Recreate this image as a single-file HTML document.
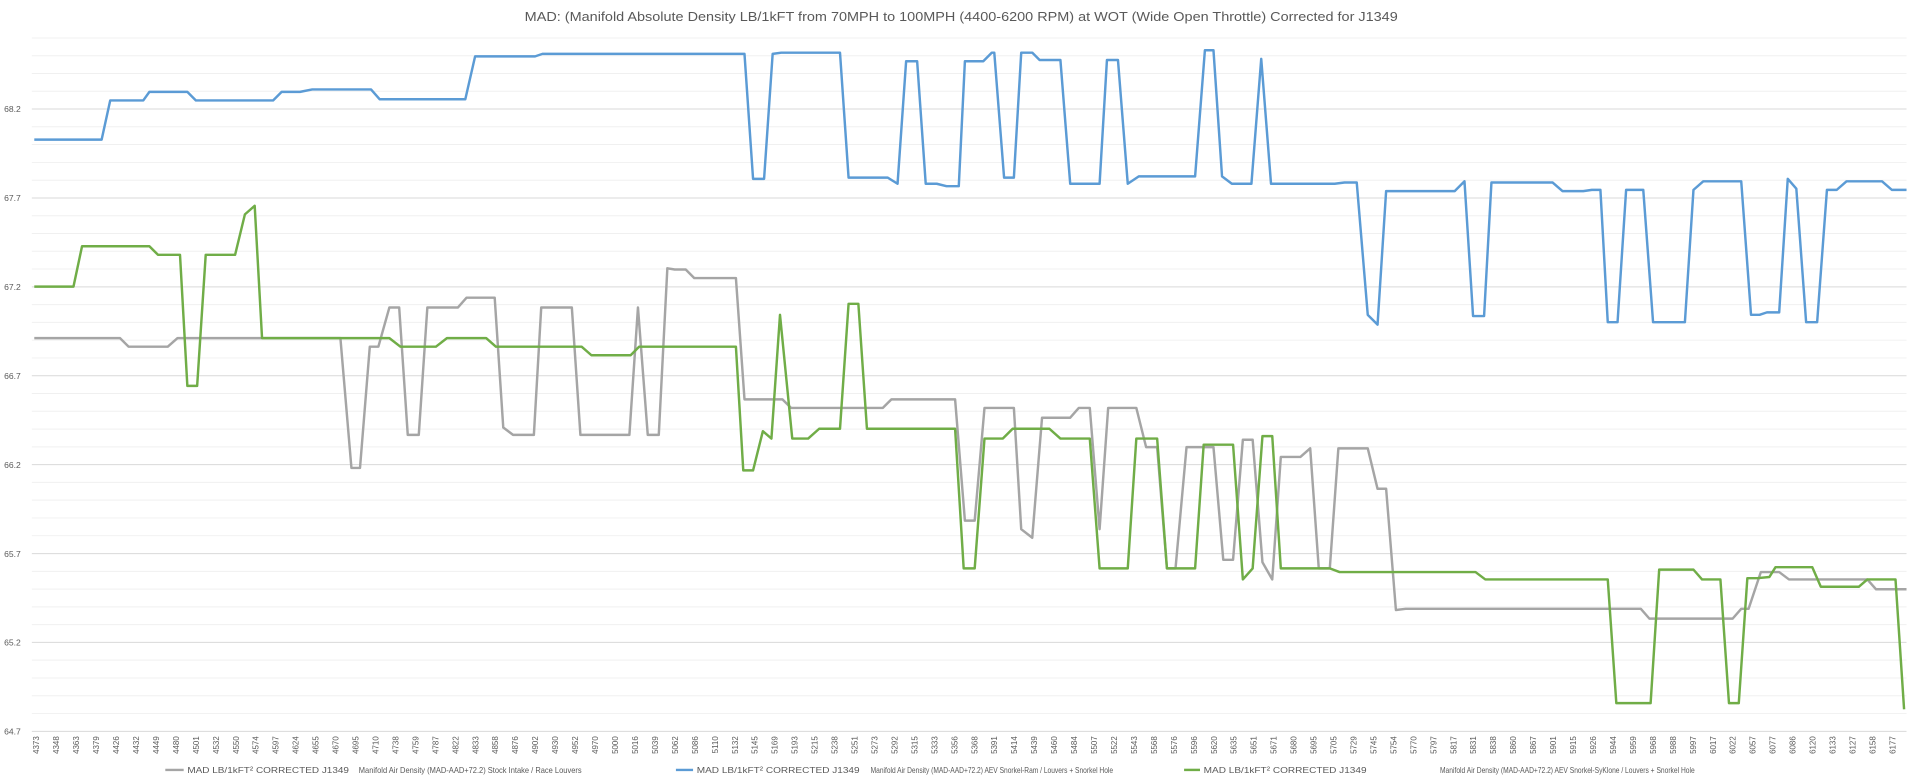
<!DOCTYPE html>
<html><head><meta charset="utf-8"><style>
html,body{margin:0;padding:0;background:#fff}
svg{display:block}
text{font-family:"Liberation Sans",sans-serif;fill:#595959}
</style></head><body>
<svg width="1920" height="784" viewBox="0 0 1568 640" preserveAspectRatio="none">
<rect width="1568" height="640" fill="#fff"/>
<text x="785" y="17" text-anchor="middle" font-size="10.5" textLength="713" lengthAdjust="spacingAndGlyphs" fill="#404040">MAD: (Manifold Absolute Density LB/1kFT from 70MPH to 100MPH (4400-6200 RPM) at WOT (Wide Open Throttle) Corrected for J1349</text>
<path stroke="#f0f0f0" stroke-width="0.8" fill="none" d="M26 582.5H1557M26 568H1557M26 553.5H1557M26 538.9H1557M26 509.9H1557M26 495.4H1557M26 480.9H1557M26 466.4H1557M26 437.3H1557M26 422.8H1557M26 408.3H1557M26 393.8H1557M26 364.8H1557M26 350.3H1557M26 335.7H1557M26 321.2H1557M26 292.2H1557M26 277.7H1557M26 263.2H1557M26 248.7H1557M26 219.6H1557M26 205.1H1557M26 190.6H1557M26 176.1H1557M26 147.1H1557M26 132.6H1557M26 118H1557M26 103.5H1557M26 74.5H1557M26 60H1557M26 45.5H1557M26 31H1557"/>
<path stroke="#d9d9d9" stroke-width="0.8" fill="none" d="M26 597H1557M26 524.4H1557M26 451.9H1557M26 379.3H1557M26 306.7H1557M26 234.2H1557M26 161.6H1557M26 89H1557"/>
<g font-size="7" text-anchor="end">
<text x="17" y="599.5">64.7</text><text x="17" y="527">65.2</text><text x="17" y="454.5">65.7</text><text x="17" y="382">66.2</text><text x="17" y="309.3">66.7</text><text x="17" y="236.8">67.2</text><text x="17" y="164.2">67.7</text><text x="17" y="91.6">68.2</text>
</g>
<g font-size="6.5" text-anchor="end">
<text transform="translate(32,601) rotate(-90)">4373</text><text transform="translate(48.3,601) rotate(-90)">4348</text><text transform="translate(64.6,601) rotate(-90)">4363</text><text transform="translate(80.9,601) rotate(-90)">4379</text><text transform="translate(97.2,601) rotate(-90)">4426</text><text transform="translate(113.5,601) rotate(-90)">4432</text><text transform="translate(129.8,601) rotate(-90)">4449</text><text transform="translate(146.1,601) rotate(-90)">4480</text><text transform="translate(162.4,601) rotate(-90)">4501</text><text transform="translate(178.7,601) rotate(-90)">4532</text>
<text transform="translate(195,601) rotate(-90)">4550</text><text transform="translate(211.3,601) rotate(-90)">4574</text><text transform="translate(227.6,601) rotate(-90)">4597</text><text transform="translate(243.9,601) rotate(-90)">4624</text><text transform="translate(260.2,601) rotate(-90)">4655</text><text transform="translate(276.5,601) rotate(-90)">4670</text><text transform="translate(292.8,601) rotate(-90)">4695</text><text transform="translate(309.1,601) rotate(-90)">4710</text><text transform="translate(325.4,601) rotate(-90)">4738</text><text transform="translate(341.7,601) rotate(-90)">4759</text>
<text transform="translate(358,601) rotate(-90)">4787</text><text transform="translate(374.3,601) rotate(-90)">4822</text><text transform="translate(390.6,601) rotate(-90)">4833</text><text transform="translate(406.9,601) rotate(-90)">4858</text><text transform="translate(423.2,601) rotate(-90)">4876</text><text transform="translate(439.5,601) rotate(-90)">4902</text><text transform="translate(455.8,601) rotate(-90)">4930</text><text transform="translate(472.1,601) rotate(-90)">4952</text><text transform="translate(488.4,601) rotate(-90)">4970</text><text transform="translate(504.7,601) rotate(-90)">5000</text>
<text transform="translate(521,601) rotate(-90)">5016</text><text transform="translate(537.3,601) rotate(-90)">5039</text><text transform="translate(553.6,601) rotate(-90)">5062</text><text transform="translate(569.9,601) rotate(-90)">5086</text><text transform="translate(586.2,601) rotate(-90)">5110</text><text transform="translate(602.5,601) rotate(-90)">5132</text><text transform="translate(618.8,601) rotate(-90)">5145</text><text transform="translate(635.1,601) rotate(-90)">5169</text><text transform="translate(651.4,601) rotate(-90)">5193</text><text transform="translate(667.7,601) rotate(-90)">5215</text>
<text transform="translate(684,601) rotate(-90)">5238</text><text transform="translate(700.3,601) rotate(-90)">5251</text><text transform="translate(716.6,601) rotate(-90)">5273</text><text transform="translate(732.9,601) rotate(-90)">5292</text><text transform="translate(749.2,601) rotate(-90)">5315</text><text transform="translate(765.5,601) rotate(-90)">5333</text><text transform="translate(781.8,601) rotate(-90)">5356</text><text transform="translate(798.1,601) rotate(-90)">5368</text><text transform="translate(814.4,601) rotate(-90)">5391</text><text transform="translate(830.7,601) rotate(-90)">5414</text>
<text transform="translate(847,601) rotate(-90)">5439</text><text transform="translate(863.3,601) rotate(-90)">5460</text><text transform="translate(879.6,601) rotate(-90)">5484</text><text transform="translate(895.9,601) rotate(-90)">5507</text><text transform="translate(912.2,601) rotate(-90)">5522</text><text transform="translate(928.5,601) rotate(-90)">5543</text><text transform="translate(944.8,601) rotate(-90)">5568</text><text transform="translate(961.1,601) rotate(-90)">5576</text><text transform="translate(977.4,601) rotate(-90)">5596</text><text transform="translate(993.7,601) rotate(-90)">5620</text>
<text transform="translate(1010,601) rotate(-90)">5635</text><text transform="translate(1026.3,601) rotate(-90)">5651</text><text transform="translate(1042.6,601) rotate(-90)">5671</text><text transform="translate(1058.9,601) rotate(-90)">5680</text><text transform="translate(1075.2,601) rotate(-90)">5695</text><text transform="translate(1091.5,601) rotate(-90)">5705</text><text transform="translate(1107.8,601) rotate(-90)">5729</text><text transform="translate(1124.1,601) rotate(-90)">5745</text><text transform="translate(1140.4,601) rotate(-90)">5754</text><text transform="translate(1156.7,601) rotate(-90)">5770</text>
<text transform="translate(1173,601) rotate(-90)">5797</text><text transform="translate(1189.3,601) rotate(-90)">5817</text><text transform="translate(1205.6,601) rotate(-90)">5831</text><text transform="translate(1221.9,601) rotate(-90)">5838</text><text transform="translate(1238.2,601) rotate(-90)">5860</text><text transform="translate(1254.5,601) rotate(-90)">5867</text><text transform="translate(1270.8,601) rotate(-90)">5901</text><text transform="translate(1287.1,601) rotate(-90)">5915</text><text transform="translate(1303.4,601) rotate(-90)">5926</text><text transform="translate(1319.7,601) rotate(-90)">5944</text>
<text transform="translate(1336,601) rotate(-90)">5959</text><text transform="translate(1352.3,601) rotate(-90)">5968</text><text transform="translate(1368.6,601) rotate(-90)">5988</text><text transform="translate(1384.9,601) rotate(-90)">5997</text><text transform="translate(1401.2,601) rotate(-90)">6017</text><text transform="translate(1417.5,601) rotate(-90)">6022</text><text transform="translate(1433.8,601) rotate(-90)">6057</text><text transform="translate(1450.1,601) rotate(-90)">6077</text><text transform="translate(1466.4,601) rotate(-90)">6086</text><text transform="translate(1482.7,601) rotate(-90)">6120</text>
<text transform="translate(1499,601) rotate(-90)">6133</text><text transform="translate(1515.3,601) rotate(-90)">6127</text><text transform="translate(1531.6,601) rotate(-90)">6158</text><text transform="translate(1547.9,601) rotate(-90)">6177</text>
</g>
<g fill="none" stroke-width="2" stroke-linejoin="round">
<polyline stroke="#a5a5a5" points="28,276 98,276 105,283 137,283 145,276 278,276 287,382 294,382 302,283 309,283 318,251 326,251 333,355 342,355 349,251 374,251 381,243 404,243 411,349 419,355 436,355 442,251 467,251 474,355 514,355 521,251 529,355 538,355 545,219 551,220 560,220 567,227 601,227 608,326 639,326 646,333 721,333 728,326 780,326 788,425 796,425 804,333 828,333 834,432 843,439 851,341 874,341 881,333 890,333 898,432 905,333 928,333 936,365 945,365 953,464 960,464 969,365 991,365 999,457 1007,457 1015,359 1023,359 1031,459 1039,473 1046,373 1062,373 1070,366 1077,464 1086,464 1093,366 1117,366 1125,399 1132,399 1140,498 1148,497 1340,497 1347,505 1415,505 1422,497 1428,497 1438,467 1453,467 1461,473 1525,473 1532,481 1557,481"/>
<polyline stroke="#5b9bd5" points="28,114 83,114 90,82 117,82 122,75 153,75 160,82 223,82 230,75 245,75 255,73 303,73 310,81 380,81 388,46 437,46 443,44 608,44 615,146 624,146 631,44 638,43 686,43 693,145 725,145 733,150 740,50 749,50 756,150 765,150 773,152 783,152 788,50 803,50 810,43 812,43 820,145 828,145 834,43 843,43 849,49 866,49 874,150 898,150 904,49 913,49 921,150 930,144 976,144 984,41 991,41 998,144 1006,150 1022,150 1030,48 1038,150 1090,150 1098,149 1108,149 1117,257 1125,265 1132,156 1188,156 1196,148 1203,258 1212,258 1218,149 1268,149 1276,156 1293,156 1300,155 1307,155 1313,263 1321,263 1328,155 1342,155 1350,263 1376,263 1383,155 1391,148 1422,148 1430,257 1437,257 1443,255 1453,255 1460,146 1467,154 1475,263 1484,263 1492,155 1500,155 1508,148 1537,148 1545,155 1557,155"/>
<polyline stroke="#70ad47" points="28,234 60,234 67,201 122,201 129,208 147,208 153,315 161,315 168,208 192,208 200,175 208,168 214,276 318,276 327,283 356,283 365,276 397,276 405,283 475,283 483,290 515,290 522,283 601,283 607,384 615,384 623,352 630,358 637,257 647,358 660,358 669,350 686,350 693,248 701,248 708,350 768,350 780,350 787,464 796,464 804,358 819,358 827,350 857,350 866,358 890,358 898,464 921,464 928,358 945,358 953,464 976,464 983,363 1007,363 1015,473 1023,464 1031,356 1039,356 1046,464 1086,464 1094,467 1205,467 1213,473 1313,473 1320,574 1348,574 1355,465 1383,465 1390,473 1405,473 1412,574 1420,574 1427,472 1435,472 1445,471 1450,463 1480,463 1487,479 1518,479 1525,473 1548,473 1555,579"/>
</g>
<g font-size="7">
<line x1="135" y1="628.5" x2="150" y2="628.5" stroke="#a5a5a5" stroke-width="2"/>
<text x="153" y="631" textLength="132" lengthAdjust="spacingAndGlyphs">MAD LB/1kFT² CORRECTED J1349</text>
<text x="293" y="631" textLength="182" lengthAdjust="spacingAndGlyphs">Manifold Air Density (MAD-AAD+72.2) Stock Intake / Race Louvers</text>
<line x1="552" y1="628.5" x2="566" y2="628.5" stroke="#5b9bd5" stroke-width="2"/>
<text x="569" y="631" textLength="133" lengthAdjust="spacingAndGlyphs">MAD LB/1kFT² CORRECTED J1349</text>
<text x="711" y="631" textLength="198" lengthAdjust="spacingAndGlyphs">Manifold Air Density (MAD-AAD+72.2) AEV Snorkel-Ram / Louvers + Snorkel Hole</text>
<line x1="967" y1="628.5" x2="980" y2="628.5" stroke="#70ad47" stroke-width="2"/>
<text x="983" y="631" textLength="133" lengthAdjust="spacingAndGlyphs">MAD LB/1kFT² CORRECTED J1349</text>
<text x="1176" y="631" textLength="208" lengthAdjust="spacingAndGlyphs">Manifold Air Density (MAD-AAD+72.2) AEV Snorkel-SyKlone / Louvers + Snorkel Hole</text>
</g>
</svg>
</body></html>
